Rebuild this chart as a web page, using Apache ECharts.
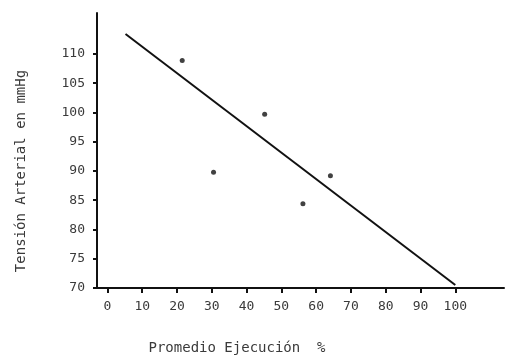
<!DOCTYPE html>
<html>
<head>
<meta charset="utf-8">
<script src="https://cdn.jsdelivr.net/npm/echarts@6/dist/echarts.min.js"></script>
<style>
  html, body { margin: 0; padding: 0; background: #fff; }
  #chart { width: 507px; height: 356px; }
</style>
</head>
<body>
<div id="chart"></div>
<script>
// valores
var ejecucion = [21.5, 30.5, 45.2, 56.2, 64.1];
var tension = [108.9, 89.8, 99.7, 84.4, 89.2];
var rectaX = [5.2, 100];
var rectaY = [113.4, 70.5];
var xTicks = [0, 10, 20, 30, 40, 50, 60, 70, 80, 90, 100];
var yTicks = [70, 75, 80, 85, 90, 95, 100, 105, 110];

var chart = echarts.init(document.getElementById('chart'));
var font = '"DejaVu Sans Mono", monospace';
var txtColor = '#3a3a3a';

var option = {
  animation: false,
  grid: {
    left: 97,
    right: 3,
    top: 13,
    bottom: 68,
    containLabel: false,
    outerBoundsMode: 'none'
  },
  xAxis: {
    type: 'value',
    min: -3,
    max: 114,
    splitLine: { show: false },
    axisLine: { onZero: false, lineStyle: { color: '#111', width: 2 } },
    axisTick: {
      customValues: xTicks,
      length: 5,
      lineStyle: { color: '#111', width: 2 }
    },
    axisLabel: {
      customValues: xTicks,
      margin: 12,
      color: txtColor,
      fontFamily: font,
      fontSize: 13
    }
  },
  yAxis: {
    type: 'value',
    min: 70,
    max: 117,
    splitLine: { show: false },
    axisLine: { onZero: false, lineStyle: { color: '#111', width: 2 } },
    axisTick: {
      customValues: yTicks,
      length: 4,
      lineStyle: { color: '#111', width: 2 }
    },
    axisLabel: {
      customValues: yTicks,
      margin: 12,
      color: txtColor,
      fontFamily: font,
      fontSize: 13
    }
  },
  graphic: [
    {
      type: 'text',
      x: 237,
      y: 348,
      style: {
        text: 'Promedio Ejecución  %',
        font: '14px ' + font,
        fill: txtColor,
        textAlign: 'center',
        textVerticalAlign: 'middle'
      }
    },
    {
      type: 'text',
      x: 21,
      y: 171,
      rotation: Math.PI / 2,
      style: {
        text: 'Tensión Arterial en mmHg',
        font: '14px ' + font,
        fill: txtColor,
        textAlign: 'center',
        textVerticalAlign: 'middle'
      }
    }
  ],
  series: [
    {
      type: 'line',
      data: rectaX.map(function (x, i) { return [x, rectaY[i]]; }),
      symbol: 'none',
      lineStyle: { color: '#111', width: 2 }
    },
    {
      type: 'scatter',
      data: ejecucion.map(function (x, i) { return [x, tension[i]]; }),
      symbolSize: 5,
      itemStyle: { color: '#111' }
    }
  ]
};
chart.setOption(option);
</script>
</body>
</html>
